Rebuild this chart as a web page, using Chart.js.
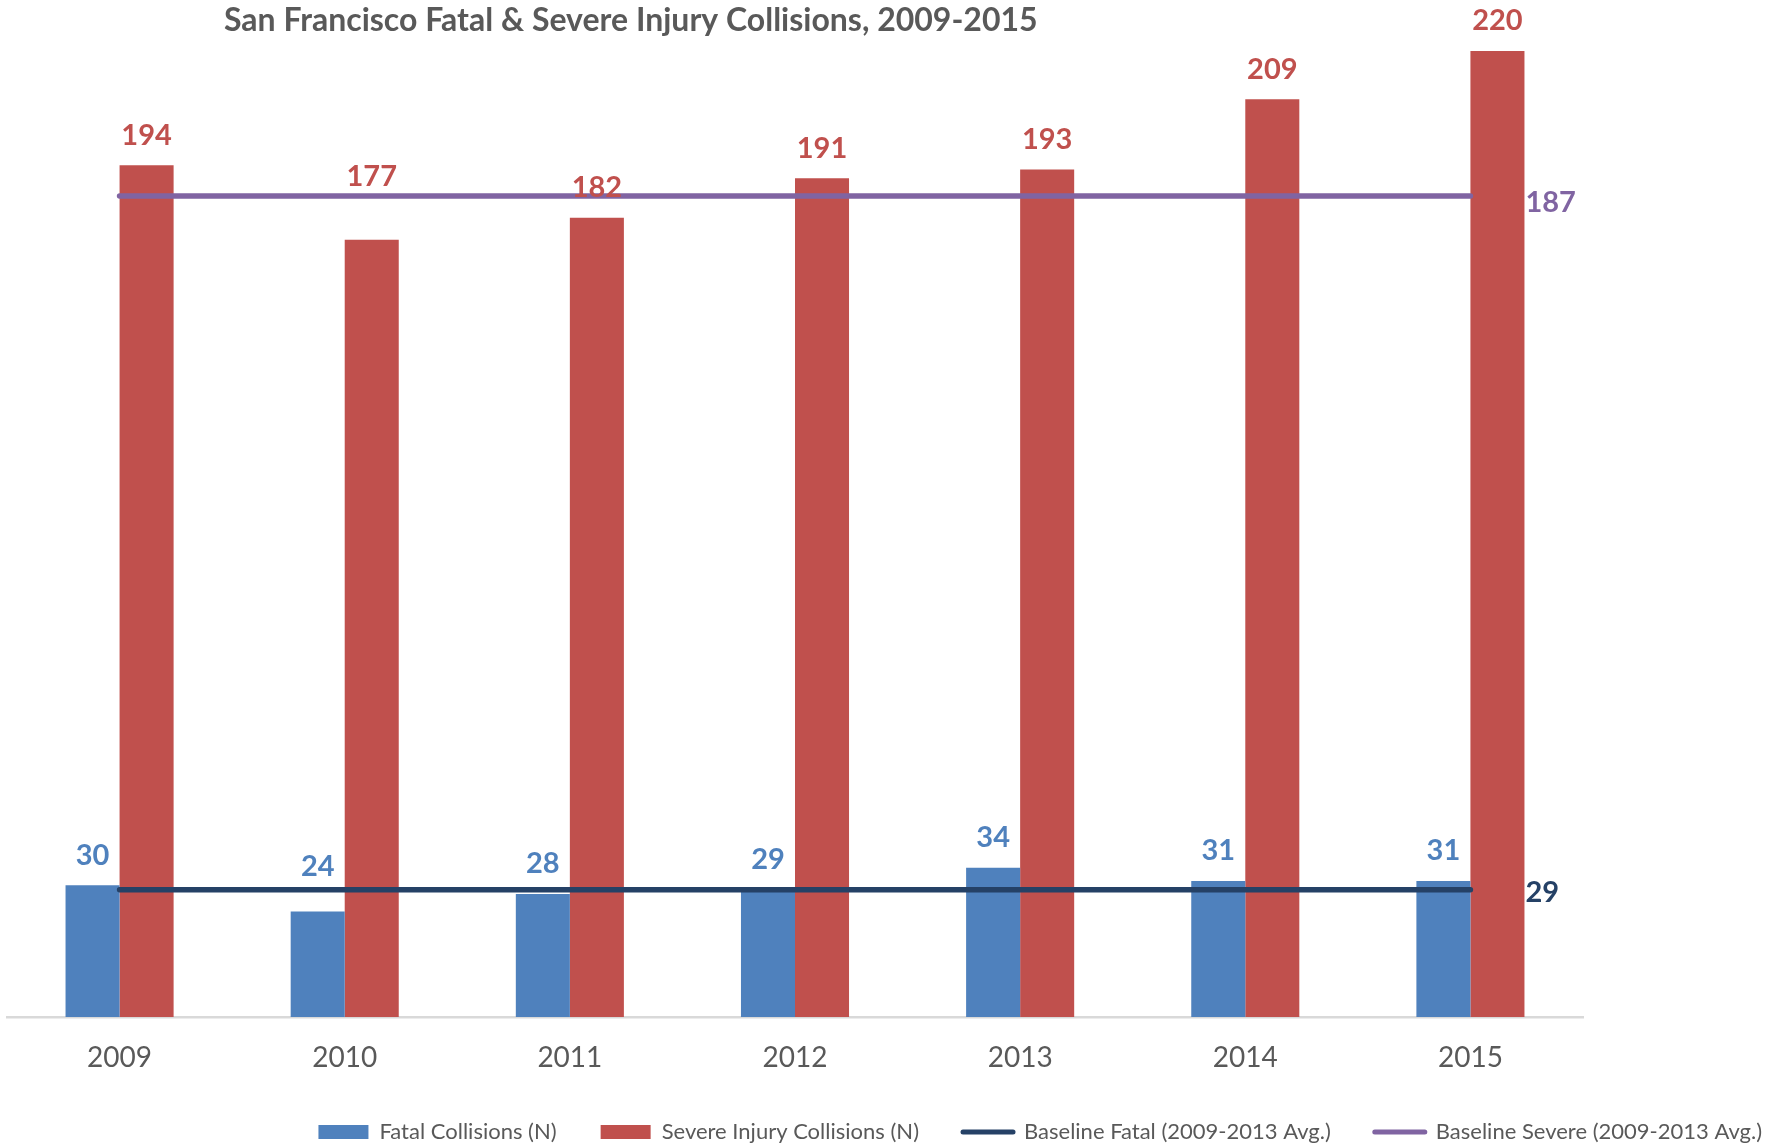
<!DOCTYPE html>
<html>
<head>
<meta charset="UTF-8">
<title>San Francisco Fatal & Severe Injury Collisions, 2009-2015</title>
<script src="https://cdn.jsdelivr.net/npm/chart.js@4.4.1/dist/chart.umd.min.js"></script>
<style>
  body { margin: 0; background: #ffffff; }
  #wrap { position: relative; width: 1781px; height: 1146px; }
</style>
</head>
<body>
<div id="wrap"><canvas id="grafica"></canvas></div>
<script>
// values
const years = ['2009', '2010', '2011', '2012', '2013', '2014', '2015'];
const fatal = [30, 24, 28, 29, 34, 31, 31];
const severe = [194, 177, 182, 191, 193, 209, 220];
const baselineFatal = [29, 29, 29, 29, 29, 29, 29];
const baselineSevere = [187, 187, 187, 187, 187, 187, 187];

const grey = '#595959';
const font = 'Lato, "Open Sans", sans-serif';

// a couple of labels were moved up by hand in the original
const labelLift = { 0: [0, 15, 0, 0, 0, 0, 0], 1: [0, 33, 0, 0, 0, 0, 0] };
const lineLabelDy = { 2: 3, 3: 7 };

const valueLabels = {
  id: 'valueLabels',
  afterDatasetsDraw(chart) {
    const ctx = chart.ctx;
    ctx.save();
    ctx.font = 'bold 29px ' + font;
    ctx.textBaseline = 'middle';
    chart.data.datasets.forEach((ds, i) => {
      const meta = chart.getDatasetMeta(i);
      ctx.fillStyle = ds.labelColor;
      if (ds.type === 'line') {
        const last = meta.data.length - 1;
        const p = meta.data[last];
        ctx.textAlign = 'left';
        ctx.fillText(ds.data[last], p.x + 55, p.y + lineLabelDy[i]);
      } else {
        ctx.textAlign = 'center';
        meta.data.forEach((bar, j) => {
          const lift = labelLift[i] ? labelLift[i][j] : 0;
          ctx.fillText(ds.data[j], bar.x, bar.y - 30 - lift);
        });
      }
    });
    ctx.restore();
  }
};

const titleText = {
  id: 'titleText',
  afterDraw(chart) {
    const ctx = chart.ctx;
    ctx.save();
    ctx.font = 'bold 32px ' + font;
    ctx.fillStyle = grey;
    ctx.textAlign = 'left';
    ctx.textBaseline = 'middle';
    ctx.fillText('San Francisco Fatal & Severe Injury Collisions, 2009-2015', 224, 21);
    ctx.restore();
  }
};

let miCanvas = document.getElementById('grafica').getContext('2d');

var chart = new Chart(miCanvas, {
  type: 'bar',
  data: {
    labels: years,
    datasets: [
      { label: 'Fatal Collisions (N)', data: fatal, backgroundColor: '#4f81bd',
        labelColor: '#4f81bd', order: 1 },
      { label: 'Severe Injury Collisions (N)', data: severe, backgroundColor: '#c0504d',
        labelColor: '#c0504d', order: 1 },
      { type: 'line', label: 'Baseline Fatal (2009-2013 Avg.)', data: baselineFatal,
        borderColor: '#254166', backgroundColor: '#254166', labelColor: '#254166',
        borderWidth: 5.5, borderCapStyle: 'round', pointRadius: 0, order: 0 },
      { type: 'line', label: 'Baseline Severe (2009-2013 Avg.)', data: baselineSevere,
        borderColor: '#8064a2', backgroundColor: '#8064a2', labelColor: '#8064a2',
        borderWidth: 5.5, borderCapStyle: 'round', pointRadius: 0, order: 0 }
    ]
  },
  options: {
    responsive: true,
    maintainAspectRatio: false,
    animation: false,
    layout: { padding: { top: 51, left: 7, right: -25, bottom: -7 } },
    datasets: { bar: { categoryPercentage: 0.48, barPercentage: 1.0 } },
    scales: {
      x: {
        grid: { display: false, drawTicks: false },
        border: { display: true, color: '#d9d9d9', width: 2.5 },
        ticks: { color: grey, font: { family: font, size: 28 }, padding: 24 },
        afterFit: s => { s.height = 60; }
      },
      y: {
        position: 'right',
        min: 0,
        max: 220,
        grid: { display: false },
        border: { display: false },
        ticks: { display: false },
        afterFit: s => { s.width = 223; }
      }
    },
    plugins: {
      tooltip: { enabled: false },
      title: { display: false },
      legend: {
        position: 'bottom',
        align: 'end',
        labels: {
          usePointStyle: true,
          pointStyleWidth: 50,
          boxHeight: 14,
          padding: 44,
          color: grey,
          font: { family: font, size: 22 },
          generateLabels: c => c.data.datasets.map((ds, i) => ({
            text: ds.label,
            datasetIndex: i,
            fillStyle: ds.backgroundColor,
            strokeStyle: ds.type === 'line' ? ds.borderColor : ds.backgroundColor,
            lineWidth: ds.type === 'line' ? 5 : 0,
            lineCap: 'round',
            pointStyle: ds.type === 'line' ? 'line' : 'rect',
            fontColor: grey,
            hidden: false
          }))
        }
      }
    }
  },
  plugins: [valueLabels, titleText]
});
</script>
</body>
</html>
